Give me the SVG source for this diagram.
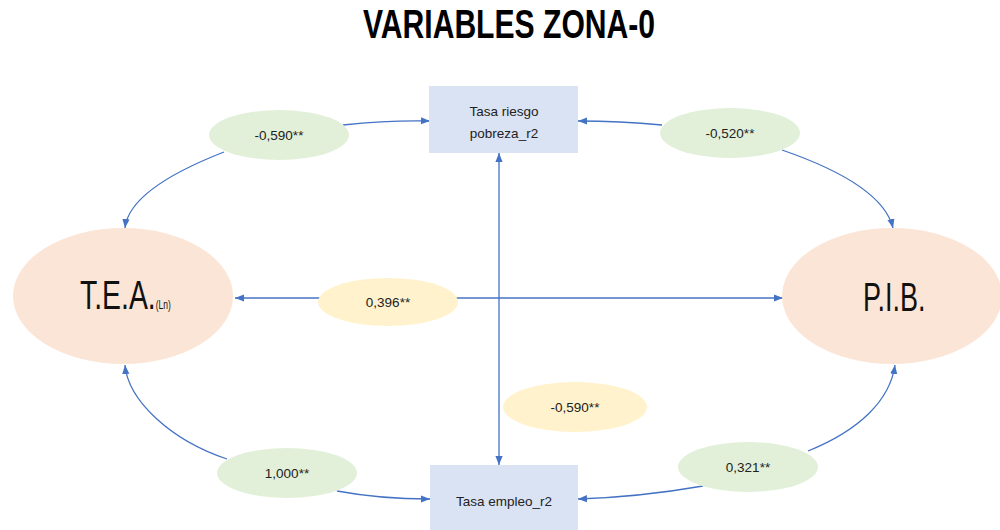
<svg xmlns="http://www.w3.org/2000/svg" width="1000" height="530" viewBox="0 0 1000 530">
<defs>
<style>
.conn{fill:none;stroke:#4472c4;stroke-width:1.3}
.big{fill:#fbe5d6}
.box{fill:#dae3f3}
.green{fill:#e2f0d9}
.yellow{fill:#fff2cc}
.lbl{font-family:"Liberation Sans",Arial,sans-serif;font-size:13.5px;fill:#222;text-anchor:middle}
.coef{font-family:"Liberation Sans",Arial,sans-serif;font-size:13.5px;fill:#222;text-anchor:middle}
.main{font-family:"Liberation Sans",Arial,sans-serif;font-size:40px;fill:#111}
</style>
<marker id="arr" viewBox="0 0 10 8" refX="10" refY="4" markerWidth="9" markerHeight="8" markerUnits="userSpaceOnUse" orient="auto-start-reverse">
<path d="M0,0 L10,4 L0,8 z" fill="#4472c4"/>
</marker>
</defs>
<rect width="1000" height="530" fill="#ffffff"/>
<text x="509" y="38" font-family="'Liberation Sans',Arial,sans-serif" font-weight="bold" font-size="41" text-anchor="middle" textLength="292" lengthAdjust="spacingAndGlyphs" fill="#000">VARIABLES ZONA-0</text>
<g id="connectors">
<path class="conn" d="M343,125 Q390,120 430,121" marker-end="url(#arr)"/>
<path class="conn" d="M224,152 C165,175 128,200 125,228" marker-end="url(#arr)"/>
<path class="conn" d="M662,125 Q620,121 578,121" marker-end="url(#arr)"/>
<path class="conn" d="M782,150 C840,170 885,195 893,228" marker-end="url(#arr)"/>
<path class="conn" d="M235,298 L783,298" marker-start="url(#arr)" marker-end="url(#arr)"/>
<path class="conn" d="M499,153 L499,465" marker-start="url(#arr)" marker-end="url(#arr)"/>
<path class="conn" d="M227,459 C170,440 128,400 125,365" marker-end="url(#arr)"/>
<path class="conn" d="M337,491 Q380,499 430,499" marker-end="url(#arr)"/>
<path class="conn" d="M703,486 Q640,497 578,499" marker-end="url(#arr)"/>
<path class="conn" d="M808,451 C860,430 890,400 895,365" marker-end="url(#arr)"/>
</g>
<g id="tea">
<ellipse class="big" cx="123" cy="296" rx="110" ry="68"/>
<text class="main" transform="translate(80,309) scale(0.71,1)">T.E.A.<tspan font-size="12">(Ln)</tspan></text>
</g>
<g id="pib">
<ellipse class="big" cx="892" cy="296" rx="110" ry="68"/>
<text class="main" transform="translate(863,311) scale(0.675,1)">P.I.B.</text>
</g>
<g id="pobreza">
<rect class="box" x="429" y="86" width="149" height="67"/>
<text class="lbl" x="504" y="116">Tasa riesgo</text>
<text class="lbl" x="504" y="138">pobreza_r2</text>
</g>
<g id="empleo">
<rect class="box" x="430" y="465" width="148" height="70"/>
<text class="lbl" x="504" y="506">Tasa empleo_r2</text>
</g>
<g id="c1">
<ellipse class="green" cx="279" cy="135" rx="70" ry="25"/>
<text class="coef" x="279" y="140">-0,590**</text>
</g>
<g id="c2">
<ellipse class="green" cx="730" cy="133" rx="70" ry="25"/>
<text class="coef" x="730" y="138">-0,520**</text>
</g>
<g id="c3">
<ellipse class="green" cx="287" cy="473" rx="70" ry="25"/>
<text class="coef" x="287" y="478">1,000**</text>
</g>
<g id="c4">
<ellipse class="green" cx="748" cy="467" rx="70" ry="25"/>
<text class="coef" x="748" y="472">0,321**</text>
</g>
<g id="c5">
<ellipse class="yellow" cx="388" cy="302" rx="70" ry="24"/>
<text class="coef" x="388" y="307">0,396**</text>
</g>
<g id="c6">
<ellipse class="yellow" cx="575" cy="407" rx="72" ry="25"/>
<text class="coef" x="575" y="412">-0,590**</text>
</g>
</svg>
